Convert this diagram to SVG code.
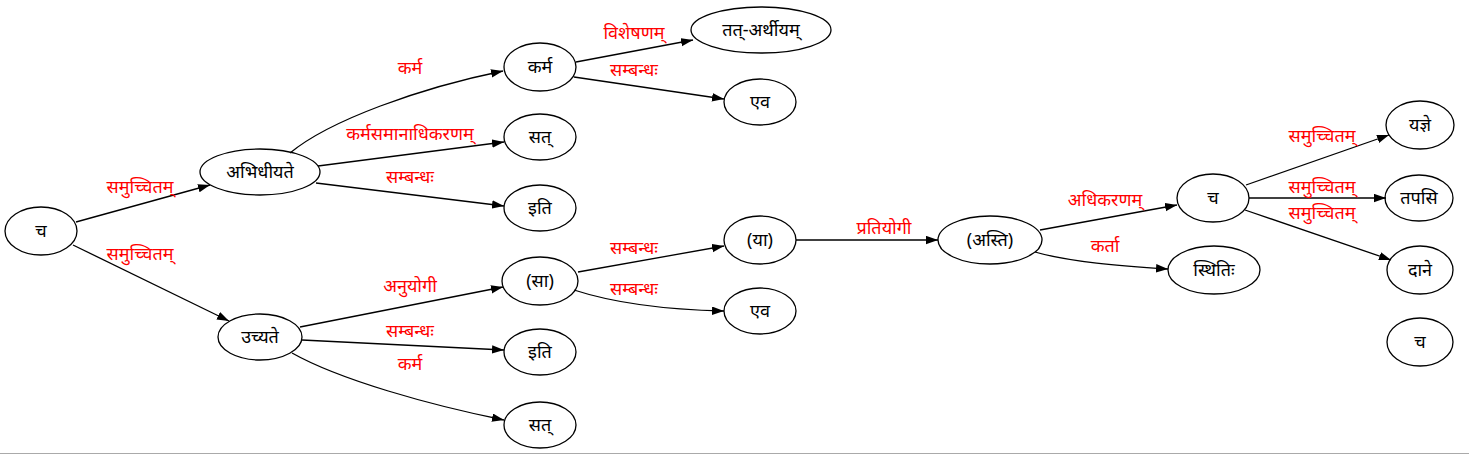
<svg xmlns="http://www.w3.org/2000/svg" width="1469" height="455" viewBox="0 0 1469 455">
<style>
.n ellipse{fill:none;stroke:#000;stroke-width:1.3}
.n text{font-family:"Noto Sans","Noto Sans Devanagari","Lohit Devanagari",sans-serif;font-size:18px;text-anchor:middle;fill:#000}
#edges path{fill:none;stroke:#000;stroke-width:1.3;marker-end:url(#ah)}
#edges text{font-family:"Noto Sans","Noto Sans Devanagari","Lohit Devanagari",sans-serif;font-size:18px;text-anchor:middle;fill:#ff0000}
</style>
<defs>
<marker id="ah" markerUnits="userSpaceOnUse" markerWidth="13" markerHeight="9" refX="12" refY="4.2" orient="auto"><path d="M0,0 L12,4.2 L0,8.4 z" fill="#000"/></marker>
</defs>
<rect width="1469" height="455" fill="#fff"/>
<line x1="0" y1="453.5" x2="1469" y2="453.5" stroke="#aaa" stroke-width="1"/>
<g id="edges">
<path d="M76,222 L210,185"/><text x="140" y="193">समुच्चितम्</text>
<path d="M73,245 L229,321"/><text x="140" y="260">समुच्चितम्</text>
<path d="M290,153 C330,120 420,88 503,71"/><text x="410" y="74">कर्म</text>
<path d="M318,166 L504,142"/><text x="410" y="140">कर्मसमानाधिकरणम्</text>
<path d="M316,183 L504,206"/><text x="410" y="183">सम्बन्धः</text>
<path d="M576,62 L693,40"/><text x="634" y="39">विशेषणम्</text>
<path d="M574,77 L724,99"/><text x="634" y="76">सम्बन्धः</text>
<path d="M300,327 L503,287"/><text x="410" y="292">अनुयोगी</text>
<path d="M302,340 L504,350"/><text x="410" y="337">सम्बन्धः</text>
<path d="M292,353 C340,380 430,405 504,420"/><text x="410" y="370">कर्म</text>
<path d="M578,272 L724,246"/><text x="634" y="254">सम्बन्धः</text>
<path d="M574,290 C620,305 680,310 724,311"/><text x="634" y="295">सम्बन्धः</text>
<path d="M796,240 L938,240"/><text x="884" y="234">प्रतियोगी</text>
<path d="M1040,230 L1177,205"/><text x="1105" y="206">अधिकरणम्</text>
<path d="M1035,252 C1070,262 1120,266 1168,269"/><text x="1105" y="252">कर्ता</text>
<path d="M1246,185 L1389,135"/><text x="1322" y="142">समुच्चितम्</text>
<path d="M1249,198 L1386,198"/><text x="1322" y="193">समुच्चितम्</text>
<path d="M1245,210 L1391,260"/><text x="1322" y="219">समुच्चितम्</text>
</g>
<g id="n_ch1" class="n"><ellipse cx="41" cy="231" rx="36" ry="24"/><text x="41" y="237">च</text></g>
<g id="n_abhidhiyate" class="n"><ellipse cx="260" cy="172" rx="60" ry="23"/><text x="260" y="178">अभिधीयते</text></g>
<g id="n_uchyate" class="n"><ellipse cx="260" cy="337" rx="42" ry="23"/><text x="260" y="343">उच्यते</text></g>
<g id="n_karma" class="n"><ellipse cx="540" cy="67" rx="36" ry="24"/><text x="540" y="73">कर्म</text></g>
<g id="n_tat" class="n"><ellipse cx="761" cy="30" rx="70" ry="23"/><text x="761" y="36">तत्-अर्थीयम्</text></g>
<g id="n_eva1" class="n"><ellipse cx="760" cy="102" rx="36" ry="23"/><text x="760" y="108">एव</text></g>
<g id="n_sat1" class="n"><ellipse cx="540" cy="137" rx="36" ry="23"/><text x="540" y="143">सत्</text></g>
<g id="n_iti1" class="n"><ellipse cx="540" cy="208" rx="36" ry="23"/><text x="540" y="214">इति</text></g>
<g id="n_sa" class="n"><ellipse cx="540" cy="281" rx="38" ry="24"/><text x="540" y="287">(सा)</text></g>
<g id="n_iti2" class="n"><ellipse cx="540" cy="352" rx="36" ry="23"/><text x="540" y="358">इति</text></g>
<g id="n_sat2" class="n"><ellipse cx="540" cy="425" rx="36" ry="23"/><text x="540" y="431">सत्</text></g>
<g id="n_ya" class="n"><ellipse cx="760" cy="240" rx="36" ry="24"/><text x="760" y="246">(या)</text></g>
<g id="n_eva2" class="n"><ellipse cx="760" cy="311" rx="36" ry="23"/><text x="760" y="317">एव</text></g>
<g id="n_asti" class="n"><ellipse cx="990" cy="240" rx="52" ry="24"/><text x="990" y="246">(अस्ति)</text></g>
<g id="n_ch2" class="n"><ellipse cx="1213" cy="198" rx="36" ry="24"/><text x="1213" y="204">च</text></g>
<g id="n_sthitih" class="n"><ellipse cx="1214" cy="270" rx="46" ry="24"/><text x="1214" y="276">स्थितिः</text></g>
<g id="n_yajne" class="n"><ellipse cx="1420" cy="125" rx="34" ry="24"/><text x="1420" y="131">यज्ञे</text></g>
<g id="n_tapasi" class="n"><ellipse cx="1419" cy="198" rx="34" ry="23"/><text x="1419" y="204">तपसि</text></g>
<g id="n_dane" class="n"><ellipse cx="1420" cy="270" rx="33" ry="24"/><text x="1420" y="276">दाने</text></g>
<g id="n_ch3" class="n"><ellipse cx="1420" cy="342" rx="33" ry="24"/><text x="1420" y="348">च</text></g>
</svg>
